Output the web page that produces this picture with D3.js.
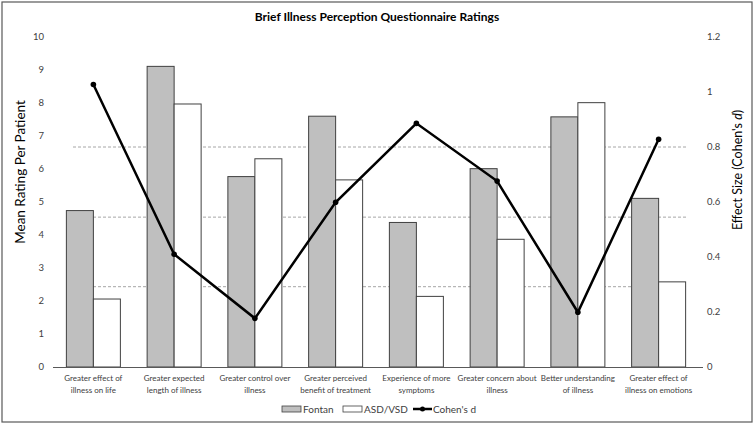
<!DOCTYPE html>
<html><head><meta charset="utf-8">
<script src="https://cdn.jsdelivr.net/npm/d3@7"></script>
<style>body{margin:0;background:#fff}svg{display:block}text{font-family:Lato,"Open Sans",sans-serif}</style>
</head><body><svg id="c" width="755" height="427"></svg>
<script>
const categories = [
  ["Greater effect of","illness on life"],
  ["Greater expected","length of illness"],
  ["Greater control over","illness"],
  ["Greater perceived","benefit of treatment"],
  ["Experience of more","symptoms"],
  ["Greater concern about","illness"],
  ["Better understanding","of illness"],
  ["Greater effect of","illness on emotions"]
];
const fontan = [4.74, 9.11, 5.77, 7.6, 4.38, 6.01, 7.58, 5.11];
const asdvsd = [2.06, 7.97, 6.31, 5.67, 2.14, 3.87, 8.01, 2.58];
const cohensD = [1.027, 0.41, 0.177, 0.599, 0.886, 0.676, 0.199, 0.828];
const leftTicks = [0,1,2,3,4,5,6,7,8,9,10];
const rightTicks = [0,0.2,0.4,0.6,0.8,1,1.2];
const refLines = [0.8, 0.545, 0.292];

const svg = d3.select("#c");
svg.append("rect").attr("x",2).attr("y",2).attr("width",750).attr("height",420)
  .attr("fill","#fff").attr("stroke","#595959").attr("stroke-width",1.2);

const x = d3.scaleBand().domain(d3.range(categories.length)).range([53,699]);
const yL = d3.scaleLinear().domain([0,10]).range([367,37]);
const yR = d3.scaleLinear().domain([0,1.2]).range([367,37]);
const bw = 27;

// reference dashed lines
svg.selectAll(".ref").data(refLines).enter().append("line")
  .attr("x1",73).attr("x2",688).attr("y1",d=>yR(d)).attr("y2",d=>yR(d))
  .attr("stroke","#a6a6a6").attr("stroke-width",1).attr("stroke-dasharray","3,2");

// bars
const cx = i => x(i) + x.bandwidth()/2;
svg.selectAll(".bf").data(fontan).enter().append("rect")
  .attr("x",(d,i)=>cx(i)-bw).attr("width",bw)
  .attr("y",d=>yL(d)).attr("height",d=>yL(0)-yL(d))
  .attr("fill","#bfbfbf").attr("stroke","#404040").attr("stroke-width",1);
svg.selectAll(".ba").data(asdvsd).enter().append("rect")
  .attr("x",(d,i)=>cx(i)).attr("width",bw)
  .attr("y",d=>yL(d)).attr("height",d=>yL(0)-yL(d))
  .attr("fill","#fff").attr("stroke","#404040").attr("stroke-width",1);

// x axis line
svg.append("line").attr("x1",53).attr("x2",703).attr("y1",yL(0)+0.5).attr("y2",yL(0)+0.5)
  .attr("stroke","#595959").attr("stroke-width",1);

// line
const line = d3.line().x((d,i)=>cx(i)).y(d=>yR(d));
svg.append("path").datum(cohensD).attr("d",line).attr("fill","none")
  .attr("stroke","#000").attr("stroke-width",2.5);
svg.selectAll(".pt").data(cohensD).enter().append("circle")
  .attr("cx",(d,i)=>cx(i)).attr("cy",d=>yR(d)).attr("r",2.8).attr("fill","#000");

// left ticks
svg.selectAll(".lt").data(leftTicks).enter().append("text")
  .attr("x",44).attr("y",d=>yL(d)).attr("dy","0.35em").attr("text-anchor","end")
  .attr("font-size",9.5).attr("fill","#404040").text(d=>d);
svg.selectAll(".rt").data(rightTicks).enter().append("text")
  .attr("x",707).attr("y",d=>yR(d)).attr("dy","0.35em").attr("text-anchor","start")
  .attr("font-size",9.5).attr("fill","#404040").text(d=>d);

// category labels
const cl = svg.selectAll(".cl").data(categories).enter().append("text")
  .attr("text-anchor","middle").attr("font-size",8).attr("fill","#404040");
cl.each(function(d,i){
  const t = d3.select(this);
  d.forEach((s,j)=>t.append("tspan").attr("x",cx(i)).attr("y",381+j*11.5).text(s));
});

// title
svg.append("text").attr("x",377).attr("y",21).attr("text-anchor","middle")
  .attr("font-size",12).attr("font-weight","bold").attr("fill","#000")
  .text("Brief Illness Perception Questionnaire Ratings");

// axis titles
svg.append("text").attr("transform","translate(25,172) rotate(-90)").attr("text-anchor","middle")
  .attr("font-size",13.5).attr("fill","#000").text("Mean Rating Per Patient");
const rt = svg.append("text").attr("transform","translate(742,170) rotate(-90)").attr("text-anchor","middle")
  .attr("font-size",12.5).attr("fill","#000");
rt.append("tspan").text("Effect Size (Cohen's ");
rt.append("tspan").attr("font-style","italic").text("d");
rt.append("tspan").text(")");

// legend
const lg = svg.append("g");
lg.append("rect").attr("x",282).attr("y",406).attr("width",19).attr("height",6)
  .attr("fill","#bfbfbf").attr("stroke","#404040").attr("stroke-width",0.8);
lg.append("text").attr("x",303).attr("y",409).attr("dy","0.35em").attr("font-size",10).attr("fill","#404040").text("Fontan");
lg.append("rect").attr("x",343).attr("y",406).attr("width",19).attr("height",6)
  .attr("fill","#fff").attr("stroke","#404040").attr("stroke-width",0.8);
lg.append("text").attr("x",364).attr("y",409).attr("dy","0.35em").attr("font-size",10).attr("fill","#404040").text("ASD/VSD");
lg.append("line").attr("x1",413).attr("x2",432).attr("y1",409).attr("y2",409).attr("stroke","#000").attr("stroke-width",2.5);
lg.append("circle").attr("cx",422.5).attr("cy",409).attr("r",2.5).attr("fill","#000");
lg.append("text").attr("x",433).attr("y",409).attr("dy","0.35em").attr("font-size",10).attr("fill","#404040").text("Cohen's d");
</script></body></html>
